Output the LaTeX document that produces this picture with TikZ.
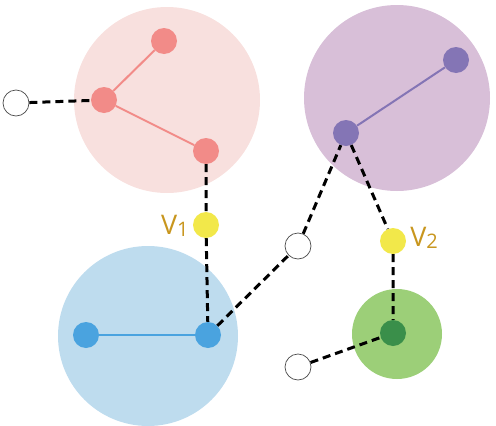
\documentclass[tikz,border=0pt]{standalone}
\usepackage{fontspec}
\setsansfont{Open Sans}
\usetikzlibrary{calc}

\definecolor{pinkbg}{HTML}{F8E0DE}
\definecolor{pinknd}{HTML}{F28B88}
\definecolor{purplebg}{HTML}{D8BFD8}
\definecolor{purplend}{HTML}{8475B5}
\definecolor{bluebg}{HTML}{BEDCEE}
\definecolor{bluend}{HTML}{4AA3DF}
\definecolor{greenbg}{HTML}{9CCF78}
\definecolor{greennd}{HTML}{3A8F4A}
\definecolor{yellownd}{HTML}{F2E84A}
\definecolor{labelcol}{HTML}{C8961E}

\begin{document}
\begin{tikzpicture}[x=1pt,y=-1pt,
group/.style={circle,inner sep=0pt},
vert/.style={circle,inner sep=0pt,minimum size=26pt},
open/.style={vert,draw=black!70,fill=white,line width=0.7pt},
link/.style={dash pattern=on 8pt off 5pt,line width=3pt},
lbl/.style={font=\sffamily\fontsize{27}{27}\selectfont,text=labelcol,inner sep=1pt}]
	\useasboundingbox (0,0) rectangle (496,426);
	% clusters
	\node[group,fill=pinkbg,minimum size=186pt] at (167,100) (c1) {};
	\node[group,fill=purplebg,minimum size=186pt] at (397,98) (c2) {};
	\node[group,fill=bluebg,minimum size=180pt] at (148,336) (c3) {};
	\node[group,fill=greenbg,minimum size=90pt] at (397,334) (c4) {};
	
	\node[vert,fill=pinknd] at (164,41) (p1) {};
	\node[vert,fill=pinknd] at (104,100) (p2) {};
	\node[vert,fill=pinknd] at (206,151) (p3) {};
	\node[vert,fill=purplend] at (456,60) (q1) {};
	\node[vert,fill=purplend] at (346,133) (q2) {};
	\node[vert,fill=bluend] at (86,335) (b1) {};
	\node[vert,fill=bluend] at (208,335) (b2) {};
	\node[vert,fill=greennd] at (393,333) (g1) {};
	\node[vert,fill=yellownd] at (206,225) (v1) {};
	\node[vert,fill=yellownd] at (393,241) (v2) {};
	\node[open] at (16,103) (o1) {};
	\node[open] at (298,246) (o2) {};
	\node[open] at (298,367) (o3) {};
	
	\node[lbl,left] at ([xshift=-3pt,yshift=-1pt]v1.west) (l1) {V\raisebox{-0.15ex}{\fontsize{20}{20}\selectfont 1}};
	\node[lbl,right] at ([xshift=3pt,yshift=3pt]v2.east) (l2) {V\raisebox{-0.15ex}{\fontsize{20}{20}\selectfont 2}};
	
	\draw[pinknd,line width=2pt] (p1) -- (p2) -- (p3);
	\draw[purplend,line width=2pt] (q1) -- (q2);
	\draw[bluend,line width=2pt] (b1) -- (b2);
	
	\draw[link] (o1) -- (p2);
	\draw[link] (p3) -- (v1) -- (b2);
	\draw[link] (b2) -- (o2) -- (q2);
	\draw[link] (q2) -- (v2) -- (g1);
	\draw[link] (o3) -- (g1);
\end{tikzpicture}
\end{document}
